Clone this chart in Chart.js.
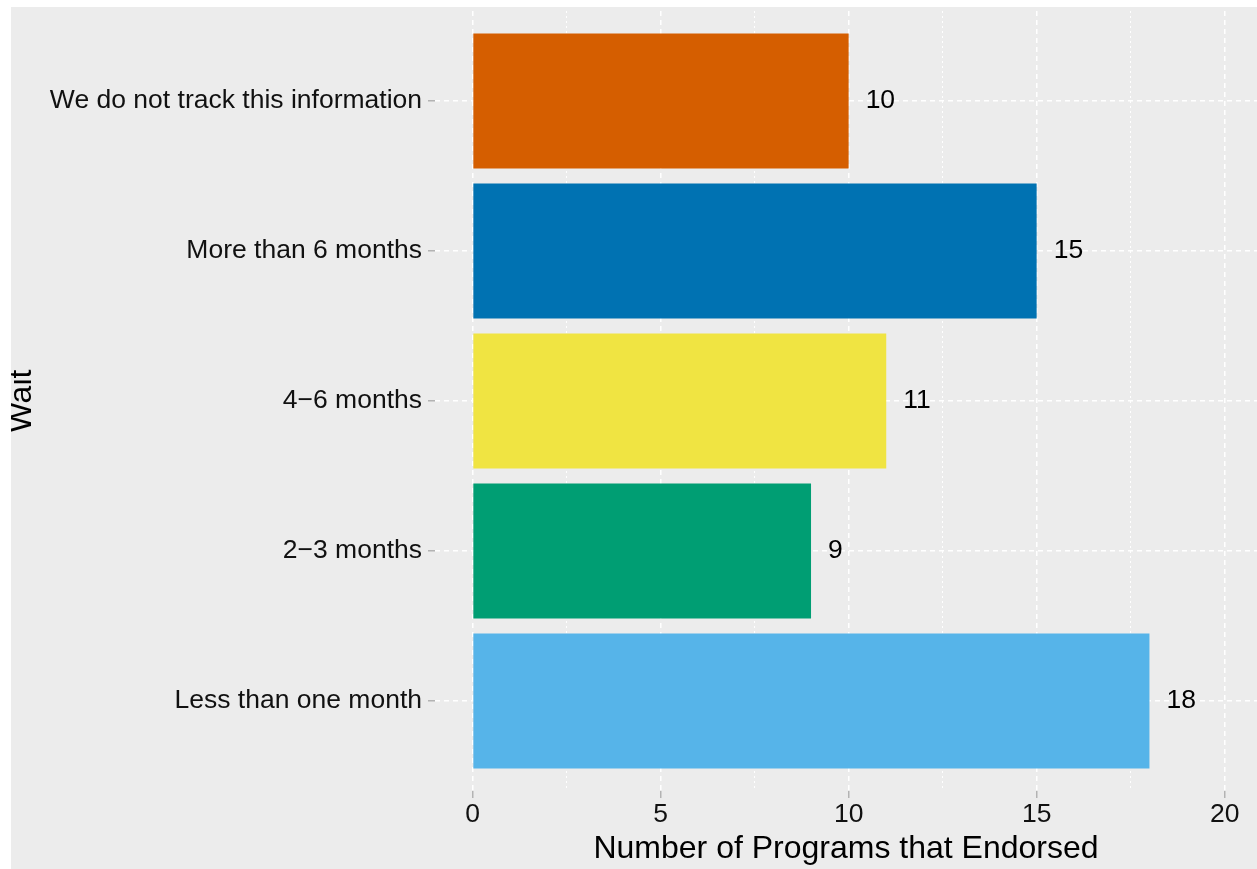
<!DOCTYPE html>
<html>
<head>
<meta charset="utf-8">
<script src="https://cdn.jsdelivr.net/npm/chart.js@4/dist/chart.umd.min.js"></script>
<style>
  html, body { margin: 0; padding: 0; background: #ffffff; }
  #painel {
    position: absolute; left: 11px; top: 7px;
    width: 1246px; height: 862px; background: #ececec;
  }
  canvas { display: block; }
</style>
</head>
<body>
<div id="painel"><canvas id="graficoBarras" width="1246" height="862"></canvas></div>
<script>
// categorias de cima para baixo
const categorias = [
  "We do not track this information",
  "More than 6 months",
  "4\u22126 months",
  "2\u22123 months",
  "Less than one month",
];
const valores = [10, 15, 11, 9, 18];
const cores = ["#D55E00", "#0072B2", "#F0E442", "#009E73", "#56B4E9"];
const ticksX = [0, 2.5, 5, 7.5, 10, 12.5, 15, 17.5, 20];

Chart.defaults.font.family = "'Liberation Sans', Arial, sans-serif";
Chart.defaults.color = "#111";

const ehMaior = (v) => v % 5 === 0;

// rotulos de valor ao lado das barras
const rotulos = {
  id: "rotulos",
  afterDatasetsDraw(chart) {
    const ctx = chart.ctx;
    ctx.save();
    ctx.font = "26.5px 'Liberation Sans', Arial, sans-serif";
    ctx.fillStyle = "#000";
    ctx.textAlign = "left";
    ctx.textBaseline = "middle";
    chart.getDatasetMeta(0).data.forEach((barra, i) => {
      ctx.fillText(String(valores[i]), barra.x + 17, barra.y);
    });
    ctx.restore();
  },
};

new Chart(document.getElementById("graficoBarras"), {
  type: "bar",
  data: {
    datasets: [
      {
        data: categorias.map((c, i) => ({ x: valores[i], y: i })),
        backgroundColor: cores,
        borderWidth: 0,
        categoryPercentage: 0.9,
        barPercentage: 1,
      },
    ],
  },
  options: {
    indexAxis: "y",
    responsive: false,
    animation: false,
    layout: { padding: { top: 4, right: 0, bottom: 0, left: 0 } },
    plugins: { legend: { display: false }, tooltip: { enabled: false } },
    scales: {
      x: {
        type: "linear",
        min: -1,
        max: 20.86,
        offset: false,
        afterBuildTicks: (s) => { s.ticks = ticksX.map((v) => ({ value: v })); },
        afterFit: (s) => { s.height = 78; s.paddingLeft = 0; s.paddingRight = 0; },
        border: {
          display: false,
          dash: (c) => (ehMaior(c.tick.value) ? [5, 4] : [2, 3]),
        },
        grid: {
          offset: false,
          color: "#ffffff",
          lineWidth: (c) => (ehMaior(c.tick.value) ? 1.5 : 1),
          tickColor: (c) => (ehMaior(c.tick.value) ? "#b3b3b3" : "rgba(0,0,0,0)"),
          tickBorderDash: [],
          tickLength: 7,
          tickWidth: 1.5,
        },
        ticks: {
          autoSkip: false,
          maxRotation: 0,
          padding: 1,
          font: { size: 26.5 },
          color: "#111",
          callback: (v) => (ehMaior(v) ? String(v) : ""),
        },
        title: {
          display: true,
          text: "Number of Programs that Endorsed",
          font: { size: 32 },
          color: "#000",
          padding: { top: 0, bottom: 1 },
        },
      },
      y: {
        type: "linear",
        min: -0.6,
        max: 4.6,
        reverse: true,
        offset: false,
        afterBuildTicks: (s) => { s.ticks = categorias.map((c, i) => ({ value: i })); },
        afterFit: (s) => { s.width = 424; s.paddingTop = 0; s.paddingBottom = 0; },
        border: { display: false, dash: [5, 4] },
        grid: {
          offset: false,
          color: "#ffffff",
          lineWidth: 1.5,
          tickColor: "#b3b3b3",
          tickBorderDash: [],
          tickLength: 7,
          tickWidth: 1.5,
        },
        ticks: {
          autoSkip: false,
          padding: 6,
          font: { size: 26.5 },
          color: "#111",
          callback: (v) => categorias[v],
        },
        title: {
          display: true,
          text: "Wait",
          font: { size: 32, lineHeight: 0.72 },
          color: "#000",
          padding: 0,
        },
      },
    },
  },
  plugins: [rotulos],
});
</script>
</body>
</html>
